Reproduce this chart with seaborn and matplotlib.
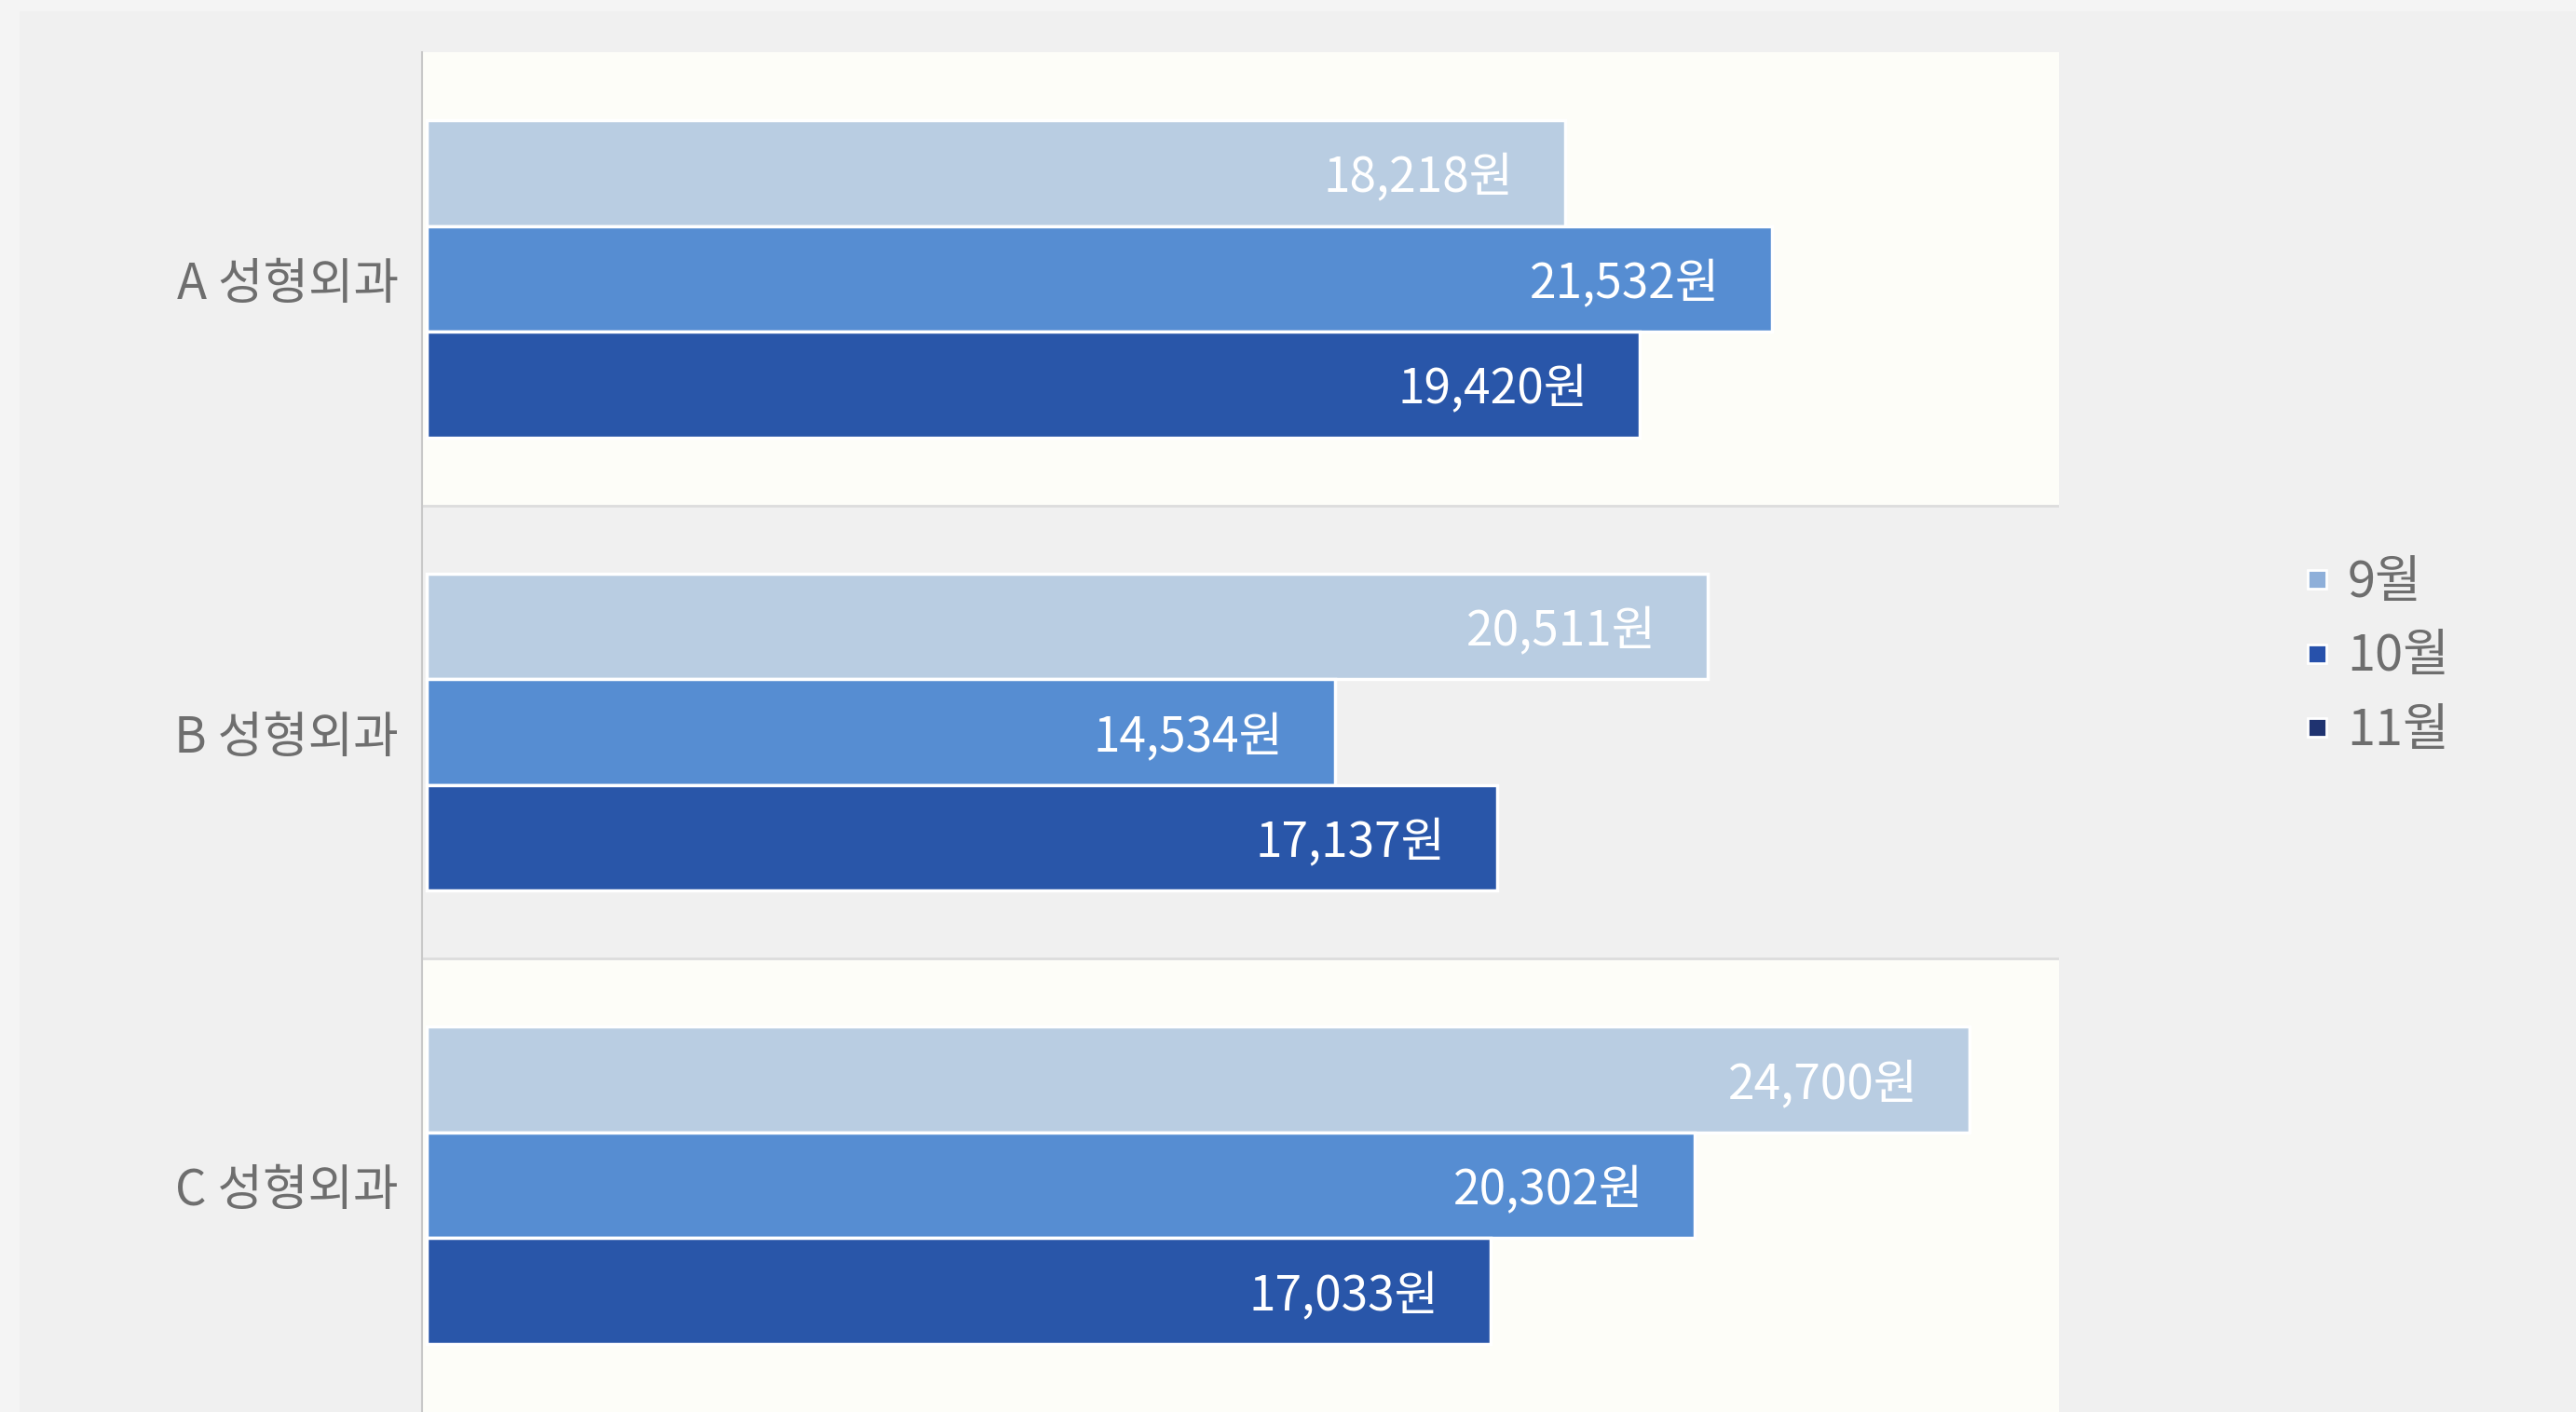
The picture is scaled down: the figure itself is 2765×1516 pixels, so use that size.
import matplotlib
matplotlib.use("Agg")
import matplotlib.pyplot as plt
from matplotlib.lines import Line2D
from matplotlib.patches import Rectangle
import seaborn as sns
import pandas as pd

# chart data
clinics = ["A 성형외과", "B 성형외과", "C 성형외과"]
months = ["9월", "10월", "11월"]
sep_values = [18218, 20511, 24700]
oct_values = [21532, 14534, 20302]
nov_values = [19420, 17137, 17033]

bar_colors = ["#b9cde2", "#568dd2", "#2956a9"]
legend_colors = ["#8eafd9", "#2751ab", "#1f3370"]

sns.set_theme(style="white")
plt.rcParams["font.family"] = ["Noto Sans CJK KR", "DejaVu Sans"]

df = pd.DataFrame({
    "clinic": clinics * 3,
    "month": [m for m in months for _ in clinics],
    "value": sep_values + oct_values + nov_values,
})

W, H = 2765, 1516
fig = plt.figure(figsize=(W / 100, H / 100), dpi=100, facecolor="#f4f4f4")
fig.add_artist(Rectangle((21 / W, 0), 1, 1 - 12 / H, transform=fig.transFigure,
                         facecolor="#f0f0f0", edgecolor="none", zorder=-5))

ax = fig.add_axes([453 / W, 0, (2210 - 453) / W, 1 - 56 / H])
ax.set_facecolor("#f0f0f0")

# alternating row bands
for i in range(len(clinics)):
    if i % 2 == 0:
        ax.axhspan(i - 0.5, i + 0.5, color="#fdfdf8", zorder=0)
for b in (0.5, 1.5):
    ax.axhline(b, color="#dcdcdc", lw=2, zorder=0.5)

sns.barplot(data=df, x="value", y="clinic", hue="month", orient="h",
            palette=bar_colors, saturation=1, width=0.7,
            edgecolor="white", linewidth=2.5,
            legend=False, ax=ax, zorder=2)

# value labels inside bar ends
for container in ax.containers:
    for bar in container:
        w = bar.get_width()
        ax.annotate(f"{int(round(w)):,}원",
                    xy=(w, bar.get_y() + bar.get_height() / 2),
                    xytext=(-40, 0), textcoords="offset points",
                    ha="right", va="center_baseline", color="white",
                    fontsize=37, fontweight="light", zorder=3)

ax.set_xlim(-80, 26130)
ax.set_ylim(2.5, -0.5)
ax.set_xlabel("")
ax.set_ylabel("")
ax.set_xticks([])
ax.tick_params(axis="y", length=0, pad=18, labelsize=38, labelcolor="#6e6e6e")
for side in ("top", "right", "bottom"):
    ax.spines[side].set_visible(False)
ax.spines["left"].set_color("#c8c8c8")
ax.spines["left"].set_linewidth(1.5)

handles = [Line2D([], [], linestyle="none", marker="s", markersize=15,
                  markerfacecolor=c, markeredgecolor="white", markeredgewidth=2)
           for c in legend_colors]
fig.legend(handles, months, loc="center left",
           bbox_to_anchor=(2446 / W, 1 - 705 / H), frameon=False,
           fontsize=39, labelcolor="#6e6e6e", handlelength=0.5,
           handletextpad=0.35, labelspacing=0.45, borderpad=0)

fig.savefig("out.png", dpi=100, facecolor=fig.get_facecolor())
